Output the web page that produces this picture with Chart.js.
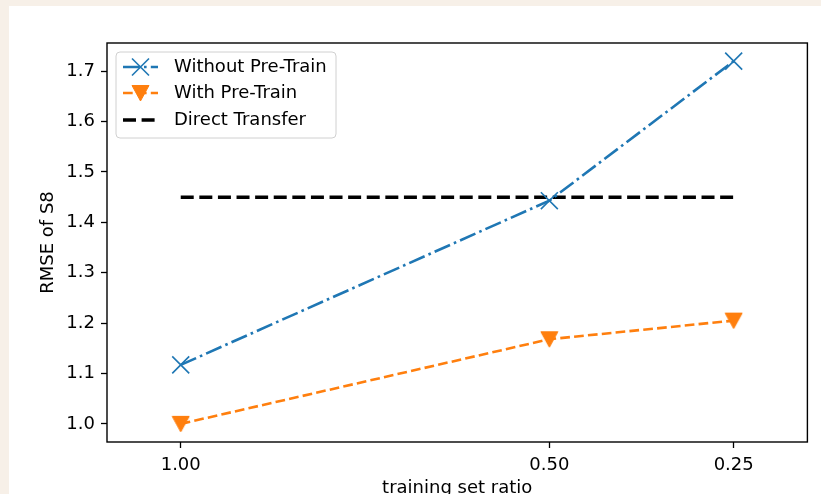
<!DOCTYPE html>
<html><head><meta charset="utf-8">
<script src="https://cdn.jsdelivr.net/npm/chart.js@4.4.0/dist/chart.umd.min.js"></script>
<style>
html,body{margin:0;padding:0;width:821px;height:494px;overflow:hidden;background:#f7f0e8;}
#panel{position:absolute;left:9px;top:6px;width:812px;height:494px;background:#fff;overflow:hidden;}
canvas{position:absolute;left:0;top:0;}
</style></head><body>
<div id="panel"><canvas id="c" width="812" height="500" style="width:812px;height:500px"></canvas></div>
<script>
const ratios = [1.0, 0.5, 0.25];
const withoutPreTrain = [1.117, 1.443, 1.720];
const withPreTrain = [1.000, 1.168, 1.205];
const directTransfer = [1.450, 1.450, 1.450];
const xTicks = [1.0, 0.5, 0.25];
const yTicks = [1.0, 1.1, 1.2, 1.3, 1.4, 1.5, 1.6, 1.7];
const seriesNames = ['Without Pre-Train', 'With Pre-Train', 'Direct Transfer'];
const xLabel = 'training set ratio';
const yLabel = 'RMSE of S8';

const FONT = 'DejaVu Sans';
const FS = 18;
const BLUE = '#1f77b4', ORANGE = '#ff7f0e';

// triangle-down marker image
const tri = document.createElement('canvas');
tri.width = 19; tri.height = 18;
(function(){
  const t = tri.getContext('2d');
  t.fillStyle = ORANGE; t.strokeStyle = ORANGE; t.lineWidth = 1;
  t.beginPath(); t.moveTo(1, 1.5); t.lineTo(18, 1.5); t.lineTo(9.5, 17); t.closePath();
  t.fill(); t.stroke();
})();

function pts(vals){ return ratios.map((x, i) => ({x: x, y: vals[i]})); }

const framePlugin = {
  id: 'frameAndLegend',
  afterDatasetsDraw(chart) {
    const ctx = chart.ctx, a = chart.chartArea;
    ctx.save();
    ctx.strokeStyle = '#000'; ctx.lineWidth = 1.4; ctx.setLineDash([]);
    ctx.strokeRect(a.left, a.top, a.right - a.left, a.bottom - a.top);
    // legend
    const x0 = a.left + 9, y0 = a.top + 9, w = 220, h = 86, r = 4;
    ctx.beginPath();
    ctx.moveTo(x0 + r, y0); ctx.lineTo(x0 + w - r, y0); ctx.quadraticCurveTo(x0 + w, y0, x0 + w, y0 + r);
    ctx.lineTo(x0 + w, y0 + h - r); ctx.quadraticCurveTo(x0 + w, y0 + h, x0 + w - r, y0 + h);
    ctx.lineTo(x0 + r, y0 + h); ctx.quadraticCurveTo(x0, y0 + h, x0, y0 + h - r);
    ctx.lineTo(x0, y0 + r); ctx.quadraticCurveTo(x0, y0, x0 + r, y0); ctx.closePath();
    ctx.fillStyle = 'rgba(255,255,255,0.8)'; ctx.fill();
    ctx.strokeStyle = '#d0d0d0'; ctx.lineWidth = 1; ctx.stroke();
    const rows = [15, 41, 68];
    chart.data.datasets.forEach((ds, i) => {
      const cy = y0 + rows[i];
      ctx.save();
      ctx.strokeStyle = ds.borderColor; ctx.lineWidth = ds.borderWidth;
      ctx.setLineDash(ds.borderDash || []);
      ctx.beginPath(); ctx.moveTo(x0 + 7, cy); ctx.lineTo(x0 + 42, cy); ctx.stroke();
      ctx.setLineDash([]);
      const mx = x0 + 24.5;
      if (i === 0) {
        ctx.lineWidth = 1.6; ctx.beginPath();
        ctx.moveTo(mx - 8.5, cy - 8.5); ctx.lineTo(mx + 8.5, cy + 8.5);
        ctx.moveTo(mx + 8.5, cy - 8.5); ctx.lineTo(mx - 8.5, cy + 8.5); ctx.stroke();
      } else if (i === 1) {
        ctx.drawImage(tri, mx - tri.width / 2, cy - tri.height / 2);
      }
      ctx.restore();
      ctx.fillStyle = '#000'; ctx.font = FS + 'px "' + FONT + '"';
      ctx.textBaseline = 'middle'; ctx.textAlign = 'left';
      ctx.fillText(ds.label, x0 + 58, cy);
    });
    ctx.restore();
  }
};

new Chart(document.getElementById('c'), {
  type: 'line',
  data: {
    datasets: [
      {label: seriesNames[0], data: pts(withoutPreTrain), borderColor: BLUE, borderWidth: 2.6,
       borderDash: [16.8, 4.2, 2.6, 4.2], pointStyle: 'crossRot', pointRadius: 12,
       pointBorderWidth: 1.6, pointBorderColor: BLUE, pointBackgroundColor: BLUE, fill: false, tension: 0},
      {label: seriesNames[1], data: pts(withPreTrain), borderColor: ORANGE, borderWidth: 2.6,
       borderDash: [9.7, 4.2], pointStyle: tri, pointRadius: 9,
       pointBorderColor: ORANGE, pointBackgroundColor: ORANGE, fill: false, tension: 0},
      {label: seriesNames[2], data: pts(directTransfer), borderColor: '#000', borderWidth: 3.5,
       borderDash: [13, 5.6], pointRadius: 0, fill: false, tension: 0}
    ]
  },
  options: {
    responsive: false, animation: false, devicePixelRatio: 1,
    layout: {padding: {left: 0, top: 37, right: 9, bottom: 0}},
    plugins: {legend: {display: false}, tooltip: {enabled: false}},
    scales: {
      x: {
        type: 'linear', reverse: true, min: 0.15, max: 1.1,
        afterBuildTicks: s => { s.ticks = xTicks.map(v => ({value: v})); },
        afterFit: s => { s.height = 64; },
        ticks: {callback: v => Number(v).toFixed(2), font: {family: FONT, size: FS}, color: '#000',
                padding: 7, maxRotation: 0, autoSkip: false},
        grid: {drawOnChartArea: false, drawTicks: true, tickLength: 6, color: '#000', tickWidth: 1.3},
        border: {display: false},
        title: {display: true, text: xLabel, font: {family: FONT, size: FS}, color: '#000',
                padding: {top: 0, bottom: 7}}
      },
      y: {
        type: 'linear', min: 0.964, max: 1.756,
        afterBuildTicks: s => { s.ticks = yTicks.map(v => ({value: v})); },
        afterFit: s => { s.width = 98; },
        ticks: {callback: v => Number(v).toFixed(1), font: {family: FONT, size: FS}, color: '#000',
                padding: 6, autoSkip: false},
        grid: {drawOnChartArea: false, drawTicks: true, tickLength: 6, color: '#000', tickWidth: 1.3},
        border: {display: false},
        title: {display: true, text: yLabel, font: {family: FONT, size: FS}, color: '#000',
                padding: {top: 29, bottom: 0}}
      }
    }
  },
  plugins: [framePlugin]
});
</script>
</body></html>
